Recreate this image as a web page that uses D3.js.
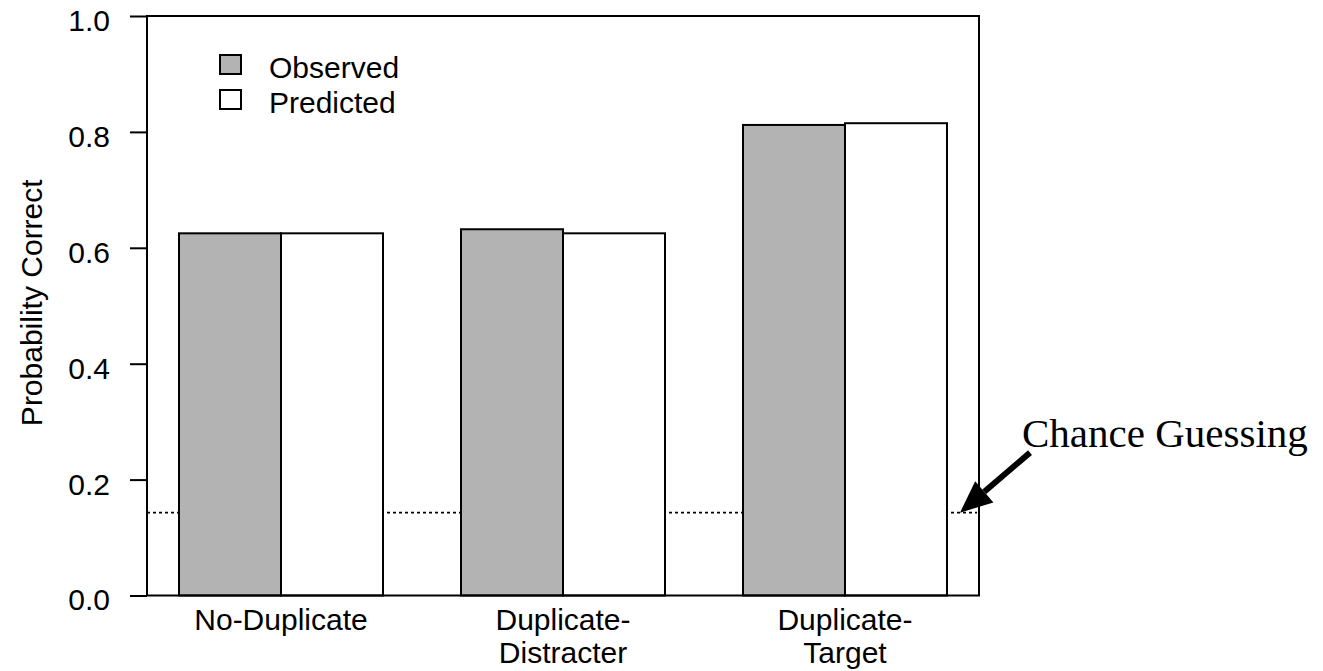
<!DOCTYPE html>
<html><head><meta charset="utf-8">
<script src="https://cdn.jsdelivr.net/npm/d3@7"></script>
<style>html,body{margin:0;padding:0;background:#fff;}</style>
</head><body>
<svg id="chart" width="1323" height="671"></svg>
<script>
const categories = ["No-Duplicate", "Duplicate-Distracter", "Duplicate-Target"];
const categoryLines = [["No-Duplicate"], ["Duplicate-", "Distracter"], ["Duplicate-", "Target"]];
const seriesNames = ["Observed", "Predicted"];
const observed = [0.625, 0.632, 0.812];
const predicted = [0.625, 0.625, 0.815];
const yTicks = [0.0, 0.2, 0.4, 0.6, 0.8, 1.0];
const chanceLevel = 0.143;
const chanceLabel = "Chance Guessing";
const yTitle = "Probability Correct";

const svg = d3.select("#chart");
const L = 147, R = 979, T = 16, B = 595.5;
const font = "Liberation Sans, Arial, sans-serif";
const fills = {Observed: "#b3b3b3", Predicted: "#ffffff"};

const y = d3.scaleLinear().domain([0, 1]).range([B, T]);
const x0 = d3.scaleBand().domain(categories).range([L, R]).paddingInner(0.2766).paddingOuter(0.1135);
const x1 = d3.scaleBand().domain(seriesNames).range([0, x0.bandwidth()]).padding(0);

const rows = categories.map((c, i) => ({cat: c, vals: [{s: "Observed", v: observed[i]}, {s: "Predicted", v: predicted[i]}]}));

// chance line (behind bars)
svg.append("line")
  .attr("x1", L).attr("x2", R - 2)
  .attr("y1", y(chanceLevel)).attr("y2", y(chanceLevel))
  .attr("stroke", "#000").attr("stroke-width", 1.7).attr("stroke-dasharray", "3,3");

// bars
const g = svg.append("g");
rows.forEach(r => {
  g.selectAll(null).data(r.vals).enter().append("rect")
    .attr("x", d => x0(r.cat) + x1(d.s))
    .attr("y", d => y(d.v))
    .attr("width", x1.bandwidth())
    .attr("height", d => y(0) - y(d.v))
    .attr("fill", d => fills[d.s])
    .attr("stroke", "#000").attr("stroke-width", 2);
});

// frame
svg.append("path")
  .attr("d", `M${L},${T}H${R}V${B}H${L}Z`)
  .attr("fill", "none").attr("stroke", "#000").attr("stroke-width", 2);

// y axis
const yAxis = d3.axisLeft(y).tickValues(yTicks).tickFormat(d3.format(".1f")).tickSize(17).tickPadding(20);
const ya = svg.append("g").attr("transform", `translate(${L},0)`).call(yAxis);
ya.select(".domain").remove();
ya.selectAll(".tick line").attr("stroke", "#000").attr("stroke-width", 2);
ya.selectAll(".tick text").attr("font-family", font).attr("font-size", 30).attr("fill", "#000").attr("dy", "0.48em");

// y title
svg.append("text")
  .attr("transform", `translate(42,${(T + B) / 2 - 3}) rotate(-90)`)
  .attr("text-anchor", "middle")
  .attr("font-family", font).attr("font-size", 30)
  .text(yTitle);

// x labels
categories.forEach((c, i) => {
  const t = svg.append("text")
    .attr("x", x0(c) + x0.bandwidth() / 2)
    .attr("y", 630)
    .attr("text-anchor", "middle")
    .attr("font-family", font).attr("font-size", 30);
  categoryLines[i].forEach((ln, j) => {
    t.append("tspan").attr("x", x0(c) + x0.bandwidth() / 2).attr("dy", j === 0 ? 0 : 33).text(ln);
  });
});

// legend
const lg = svg.append("g");
seriesNames.forEach((s, i) => {
  lg.append("rect").attr("x", 220).attr("y", 55 + i * 35).attr("width", 21).attr("height", 19)
    .attr("fill", fills[s]).attr("stroke", "#000").attr("stroke-width", 2);
  lg.append("text").attr("x", 269).attr("y", 78 + i * 35)
    .attr("font-family", font).attr("font-size", 30).text(s);
});

// annotation arrow
const tipX = R - 19, tipY = y(chanceLevel);
const tailX = tipX + 70, tailY = tipY - 60;
const ang = Math.atan2(tipY - tailY, tipX - tailX);
const headLen = 32, headHalf = 14;
const bx = tipX - headLen * Math.cos(ang), by = tipY - headLen * Math.sin(ang);
svg.append("line").attr("x1", tailX).attr("y1", tailY).attr("x2", bx).attr("y2", by)
  .attr("stroke", "#000").attr("stroke-width", 6);
svg.append("path")
  .attr("d", `M${tipX},${tipY}L${bx + headHalf * Math.sin(ang)},${by - headHalf * Math.cos(ang)}L${bx - headHalf * Math.sin(ang)},${by + headHalf * Math.cos(ang)}Z`)
  .attr("fill", "#000");
svg.append("text").attr("x", 1022).attr("y", tailY - 6)
  .attr("font-family", "Liberation Serif, Times New Roman, serif").attr("font-size", 41)
  .text(chanceLabel);
</script>
</body></html>
